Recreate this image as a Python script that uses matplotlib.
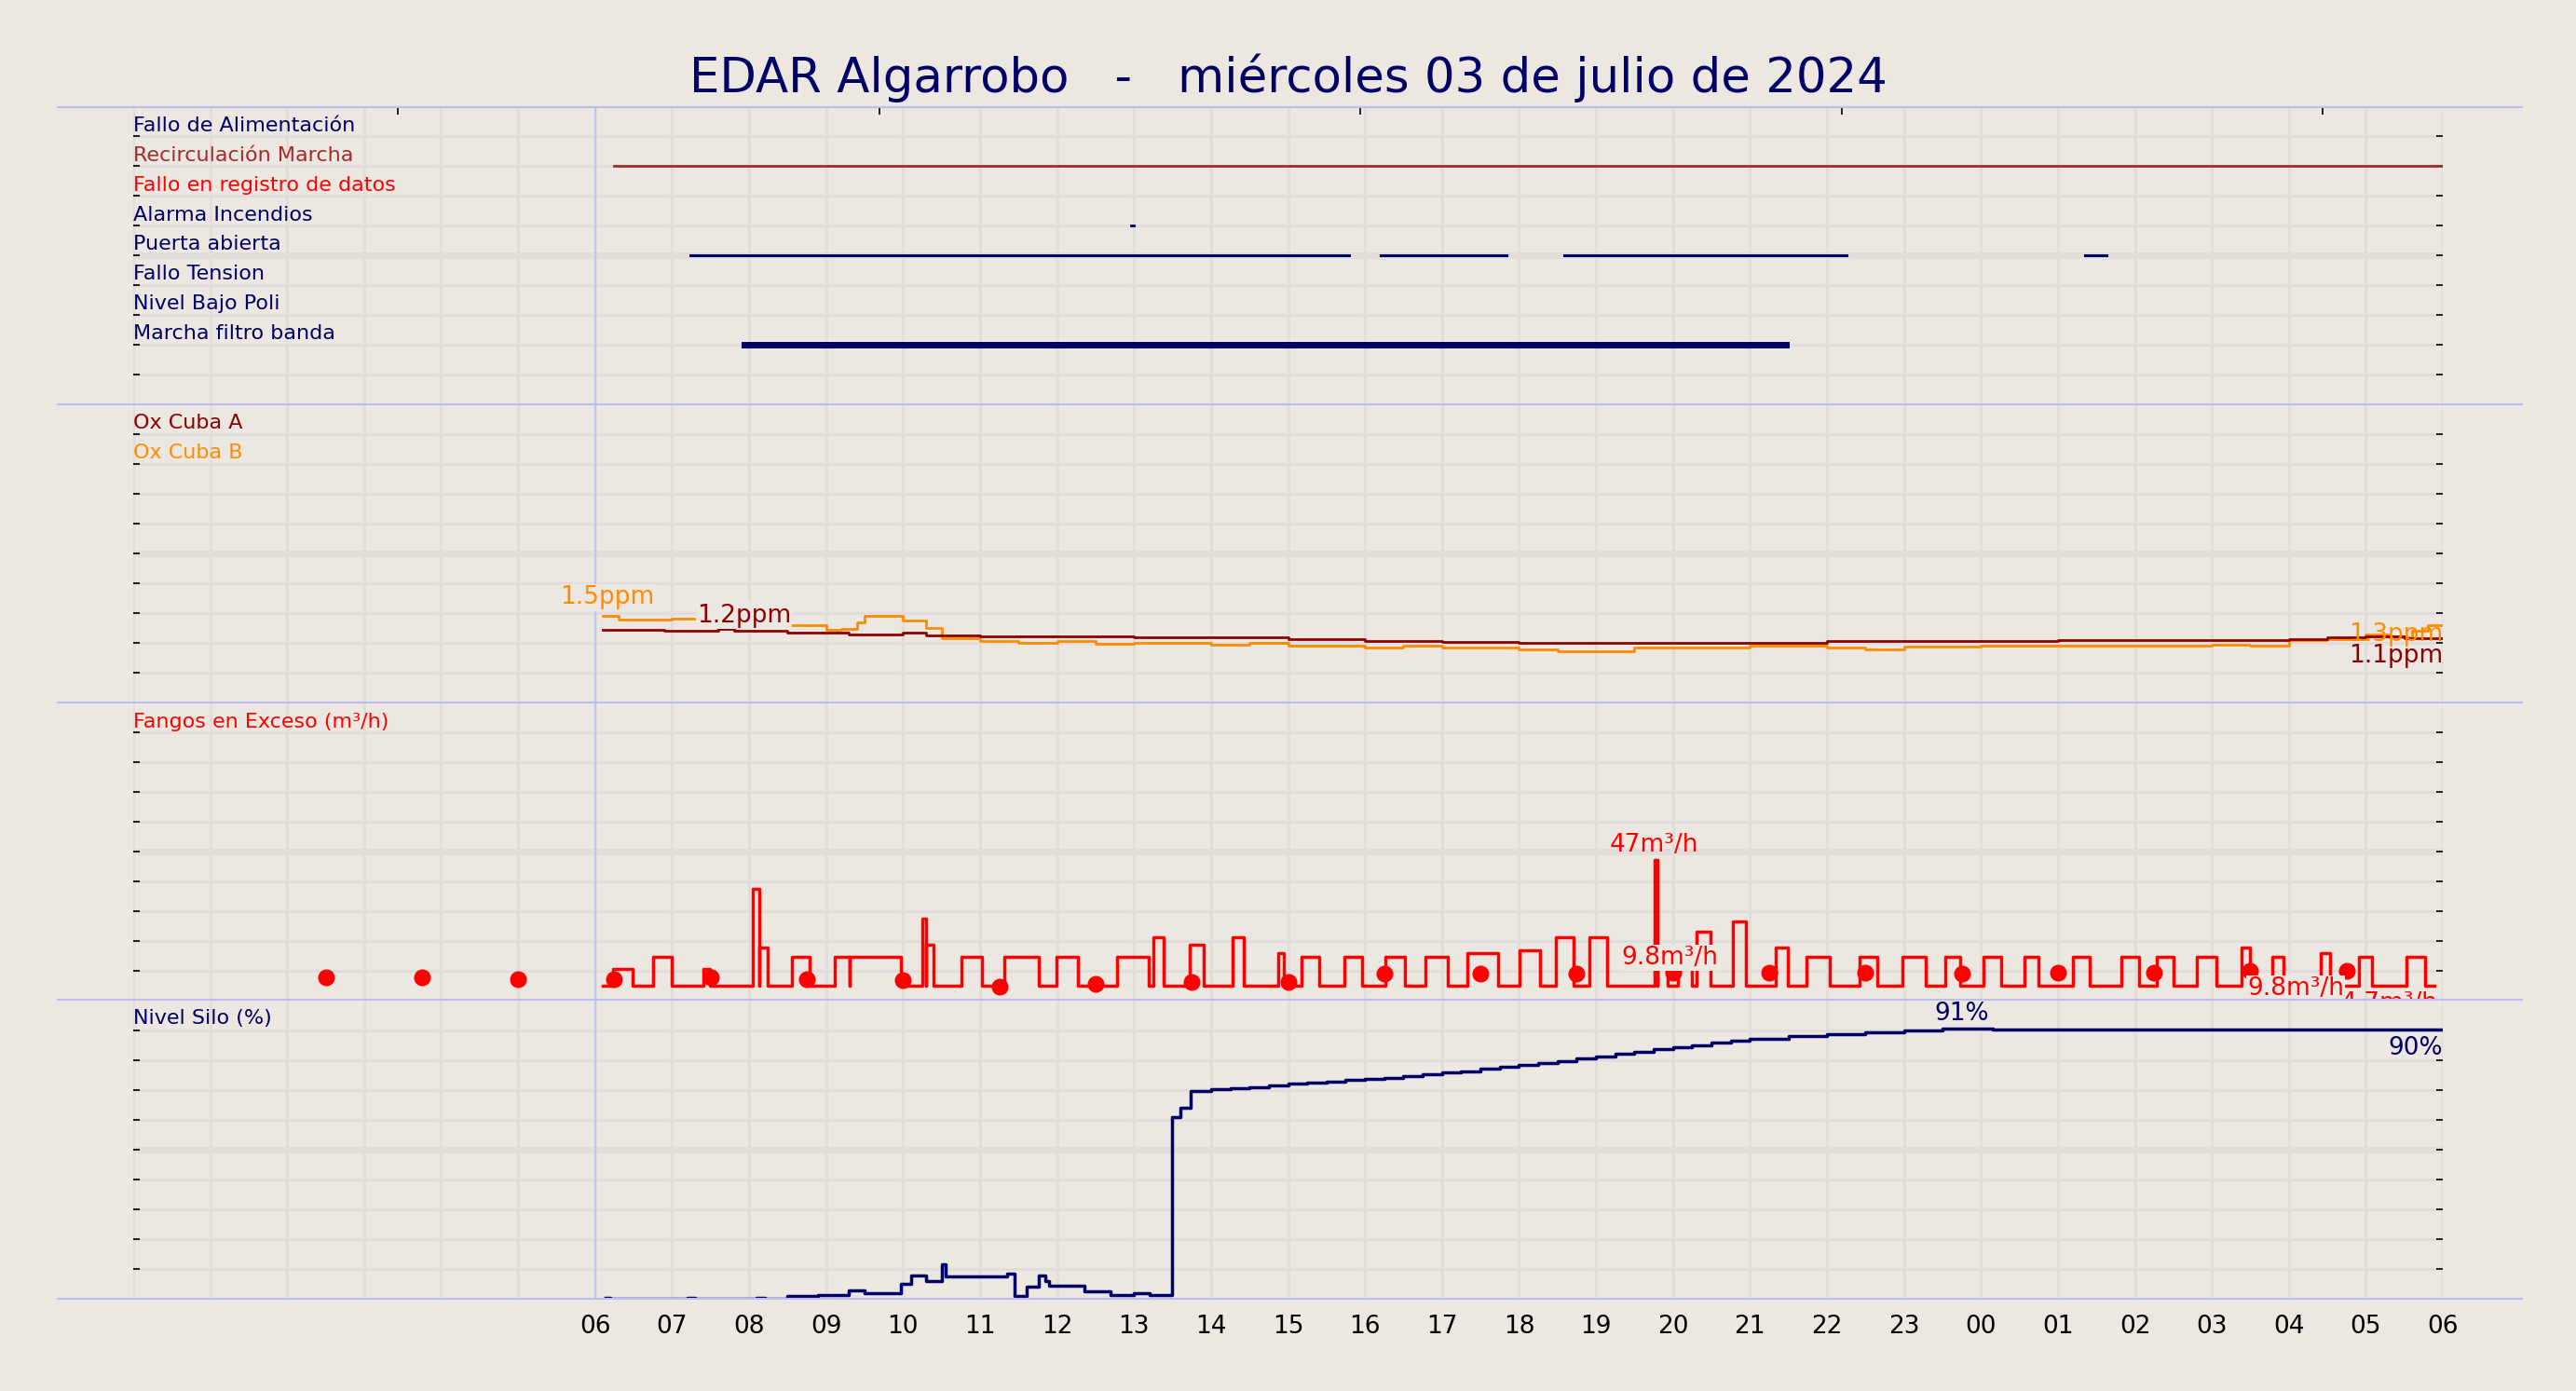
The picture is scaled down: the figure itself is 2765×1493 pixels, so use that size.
import numpy as np
import matplotlib
matplotlib.use("Agg")
import matplotlib.pyplot as plt
from matplotlib.lines import Line2D

BG = "#ECE7E1"
NAVY = "#000066"
GRID = "#E2DDDA"
SEP = "#BDBDF2"

title = "EDAR Algarrobo   -   miércoles 03 de julio de 2024"
hour_labels = ["06","07","08","09","10","11","12","13","14","15","16","17","18",
               "19","20","21","22","23","00","01","02","03","04","05","06"]

# Panel 1: digital signals (row, label, colour)
dig_labels = ["Fallo de Alimentación","Recirculación Marcha","Fallo en registro de datos",
              "Alarma Incendios","Puerta abierta","Fallo Tension","Nivel Bajo Poli","Marcha filtro banda"]
dig_colors = [NAVY,"#A52A2A","red",NAVY,NAVY,NAVY,NAVY,NAVY]
dig_rows = [9,8,7,6,5,4,3,2]
recirc_on = [(0.25, 24.0)]
alarma_on = [(6.96, 7.0)]
puerta_on = [(1.24, 9.79), (10.2, 11.84), (12.59, 16.26), (19.35, 19.63)]
filtro_on = [(1.94, 15.47)]

# Panel 2: oxygen (hours from 06:00, ppm)
oxa_t = [0.1,0.9,1.6,1.8,2.5,3.3,4.0,4.3,5,6,7,8,9,10,11,12,13,14,15,16,17,18,19,20,21,22,22.5,23,23.5,24]
oxa_v = [1.22,1.20,1.23,1.20,1.17,1.15,1.17,1.13,1.12,1.11,1.10,1.09,1.06,1.04,1.02,1.01,1.00,1.00,1.01,1.03,1.04,1.04,1.05,1.05,1.05,1.06,1.10,1.12,1.08,1.08]
oxb_t = [0.1,0.3,1.0,1.5,2.0,2.5,3.0,3.2,3.4,3.5,4.0,4.3,4.5,5,5.5,6,6.5,7,8,8.5,9,10,10.5,11,12,12.5,13,13.5,14,15,16,16.5,17,18,19,20,21,21.5,22,22.5,23,23.3,23.6,23.8,24]
oxb_v = [1.45,1.40,1.41,1.38,1.40,1.30,1.22,1.24,1.35,1.45,1.38,1.25,1.08,1.04,1.01,1.03,0.99,1.00,0.98,1.00,0.96,0.93,0.95,0.93,0.90,0.86,0.87,0.92,0.93,0.95,0.93,0.90,0.94,0.95,0.96,0.96,0.98,0.95,1.05,1.07,1.15,1.10,1.20,1.30,1.30]

# Panel 3: excess sludge pulses (start h, end h, m3/h), baseline 0
pulse_start = [0.23,0.75,1.41,2.05,2.13,2.56,3.11,3.31,4.25,4.30,4.76,5.31,5.99,6.78,7.25,7.72,8.28,8.87,9.17,9.73,10.26,10.79,11.33,12.01,12.48,12.91,13.76,13.80,14.06,14.31,14.78,15.34,15.74,16.43,16.98,17.54,18.03,18.56,19.20,19.82,20.29,20.80,21.38,21.78,22.42,22.91,23.53]
pulse_end   = [0.49,1.00,1.49,2.13,2.24,2.79,3.31,3.97,4.30,4.39,5.03,5.76,6.27,7.19,7.38,7.91,8.43,8.94,9.41,9.96,10.52,11.07,11.73,12.27,12.71,13.14,13.80,13.93,14.25,14.49,14.95,15.49,16.04,16.66,17.28,17.73,18.26,18.75,19.41,20.05,20.50,21.06,21.50,21.93,22.53,23.08,23.77]
pulse_val   = [6,10.5,6,36,14,10.5,10.5,10.5,25,15,10.5,10.5,10.5,10.5,18,15,18,12,10.5,10.5,10.5,10.5,12,13,18,18,47,10.5,13,20,24,14,10.5,10.5,10.5,10.5,10.5,10.5,10.5,10.5,10.5,10.5,14,10.5,12,10.5,10.5]
fangos_end = 23.89
dots_t = [-3.5 + 1.25*k for k in range(22)]
dots_v = [3.0,3.0,2.4,2.4,3.0,2.4,1.8,-0.5,0.55,1.2,1.2,4.2,4.2,4.2,4.8,4.8,4.8,4.2,4.8,4.8,5.4,5.4]

# Panel 4: silo level (%)
silo_t = [0.13,0.2,1.2,1.3,2.1,2.2,2.5,2.9,3.3,3.5,3.8,3.97,4.1,4.3,4.5,4.55,4.7,5.35,5.45,5.6,5.76,5.85,5.9,6.35,6.7,7.0,7.2,7.49,7.6,7.74,
          8.0,8.25,8.5,8.75,9,9.25,9.5,9.75,10,10.25,10.5,10.75,11,11.25,11.5,11.75,12,12.25,12.5,12.75,13,13.25,13.5,13.75,14,14.25,14.5,14.75,15,15.5,16,16.5,17,17.5,18.15,24]
silo_v = [0.5,0,0.5,0,0.3,0,1,1.5,3,2,2,5,8,6,11.5,7.5,7.5,8.5,1,4,8,6,4.5,2.5,1.5,2,1.5,61,64,69.5,
          70.3,70.6,71,71.5,72,72.3,72.7,73.2,73.6,74.1,74.6,75.2,75.7,76.3,77,77.6,78.3,79,79.7,80.4,81.2,82,82.8,83.5,84.3,85,85.8,86.5,87.2,88,88.7,89.3,89.8,90.4,90.1,90.1]

fig = plt.figure(figsize=(27.65, 14.93), dpi=100, facecolor=BG)
fig.text(0.5, 0.944, title, ha="center", va="center", fontsize=37, color=NAVY)

left, right = 0.0517, 0.9483
bounds = [0.9233, 0.7096, 0.4947, 0.281, 0.0661]
axes = []
for i in range(4):
    ax = fig.add_axes([left, bounds[i+1], right-left, bounds[i]-bounds[i+1]])
    ax.set_facecolor(BG)
    for s in ax.spines.values():
        s.set_visible(False)
    ax.set_xlim(-6, 24)
    axes.append(ax)
for b in bounds:
    fig.add_artist(Line2D([0.0223, 0.979], [b, b], color=SEP, lw=1.5))

def setup(ax, lo, hi):
    ax.set_ylim(lo, hi)
    ticks = np.linspace(lo, hi, 11)
    for k, t in enumerate(ticks[:-1]):
        ax.axhline(t, color=GRID, lw=5 if k == 5 else 2.2, zorder=0)
    for h in range(-6, 25):
        ax.axvline(h, color=GRID, lw=2.2, zorder=0)
    ax.axvline(0, color="#C4C4F2", lw=1.5, zorder=0.5)
    ax.set_yticks(ticks[1:-1])
    ax.tick_params(axis="y", which="both", left=True, right=True, direction="in",
                   length=5, width=1.2, labelleft=False, colors="black")
    return ticks

def txt(ax, x, y, s, c, **kw):
    ax.text(x, y, s, color=c, fontsize=16, **kw)

# Panel 1
ax = axes[0]
t1 = setup(ax, 0, 10)
ax.set_xticks([])
ax.set_xticks([-2.56, 3.69, 9.94, 16.19, 22.44], minor=True)
ax.tick_params(axis="x", which="minor", top=True, bottom=False, direction="in", length=6, width=1.2)
for lab, c, r in zip(dig_labels, dig_colors, dig_rows):
    txt(ax, -6, r + 0.05, lab, c, ha="left", va="bottom")
for (a, b) in recirc_on:
    ax.plot([a, b], [8, 8], color="#A52A2A", lw=2)
for (a, b) in alarma_on:
    ax.plot([a, b], [6, 6], color=NAVY, lw=2)
for (a, b) in puerta_on:
    ax.plot([a, b], [5, 5], color=NAVY, lw=2.2)
for (a, b) in filtro_on:
    ax.plot([a, b], [2, 2], color=NAVY, lw=5)

# Panel 2
ax = axes[1]
t2 = setup(ax, 0, 5)
ax.set_xticks([])
txt(ax, -6, t2[9] + 0.03, "Ox Cuba A", "#8B0000", ha="left", va="bottom")
txt(ax, -6, t2[8] + 0.03, "Ox Cuba B", "#FF8C00", ha="left", va="bottom")
ax.step(oxb_t, oxb_v, where="post", color="#FF8C00", lw=2)
ax.step(oxa_t, oxa_v, where="post", color="#8B0000", lw=2)
bb = dict(facecolor=BG, edgecolor="none", pad=1)
ax.text(0.77, 1.76, "1.5ppm", color="#FF8C00", fontsize=19, ha="right", va="center", bbox=bb)
ax.text(1.32, 1.46, "1.2ppm", color="#8B0000", fontsize=19, ha="left", va="center", bbox=bb)
ax.text(24, 1.14, "1.3ppm", color="#FF8C00", fontsize=19, ha="right", va="center")
ax.text(24, 0.78, "1.1ppm", color="#8B0000", fontsize=19, ha="right", va="center")

# Panel 3
ax = axes[2]
lo3, hi3 = -0.5/0.09, 9.5/0.09
t3 = setup(ax, lo3, hi3)
ax.set_xticks([])
txt(ax, -6, t3[9] + 0.5, "Fangos en Exceso (m³/h)", "red", ha="left", va="bottom")
xs, ys = [0.1], [0]
for a, b, v in zip(pulse_start, pulse_end, pulse_val):
    if abs(xs[-1] - a) > 1e-6:
        xs += [a]; ys += [0]
    xs += [a, b]; ys += [v, v]
    xs += [b]; ys += [0]
xs += [fangos_end]; ys += [0]
px, py = [xs[0]], [ys[0]]
for x, y in zip(xs[1:], ys[1:]):
    px += [x, x]; py += [py[-1], y]
ax.plot(px, py, color="red", lw=2.5)
ax.plot(dots_t, dots_v, "o", color="red", ms=12, ls="none")
ax.text(13.76, 52.4, "47m³/h", color="red", fontsize=19, ha="center", va="center")
ax.text(13.33, 10.3, "9.8m³/h", color="red", fontsize=19, ha="left", va="center", bbox=bb)
ax.text(21.46, -1.3, "9.8m³/h", color="red", fontsize=19, ha="left", va="center", bbox=bb)
ax.text(23.94, -6.9, "4.7m³/h", color="red", fontsize=19, ha="right", va="center", clip_on=False)

# Panel 4
ax = axes[3]
t4 = setup(ax, 0, 100)
txt(ax, -6, t4[9] + 0.8, "Nivel Silo (%)", NAVY, ha="left", va="bottom")
ax.step(silo_t, silo_v, where="post", color=NAVY, lw=2.5)
ax.text(17.75, 95.6, "91%", color=NAVY, fontsize=19, ha="center", va="center", bbox=bb)
ax.text(24, 84, "90%", color=NAVY, fontsize=19, ha="right", va="center")
ax.set_xticks(range(25))
ax.set_xticklabels(hour_labels, fontsize=19)
ax.tick_params(axis="x", length=0, pad=12)

fig.savefig("out.png", dpi=100, facecolor=BG)
